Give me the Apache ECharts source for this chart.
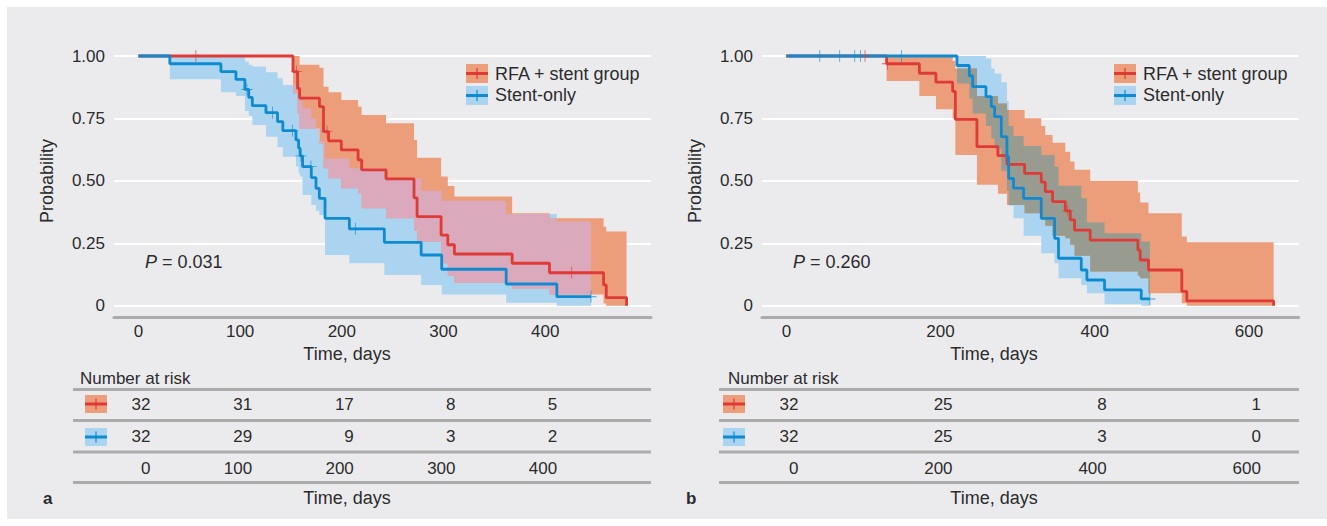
<!DOCTYPE html>
<html><head><meta charset="utf-8">
<script src="https://cdn.jsdelivr.net/npm/echarts@6/dist/echarts.min.js"></script>
<style>html,body{margin:0;padding:0;background:#fff}#c{width:1327px;height:526px}</style>
</head><body><div id="c"></div>
<script>
// ===== DATA =====
// Panel a — RFA + stent group: step start times, survival, CI lower, CI upper
const aRfaTime = [0, 152, 156.5, 158.5, 178, 182, 187, 199.5, 216, 219.5, 243.5, 271, 274, 297.6, 304.2, 310.7, 367.5, 404.2, 457.4, 460, 480];
const aRfaSurv = [1, 0.9375, 0.87, 0.831, 0.797, 0.697, 0.660, 0.624, 0.584, 0.544, 0.508, 0.432, 0.357, 0.283, 0.244, 0.207, 0.170, 0.132, 0.083, 0.032, 0];
const aRfaLo   = [1, 0.85, 0.77, 0.71, 0.65, 0.55, 0.51, 0.47, 0.45, 0.39, 0.35, 0.30, 0.257, 0.17, 0.12, 0.092, 0.069, 0.045, 0.009, 0, 0];
const aRfaHi   = [1, 1, 1, 0.965, 0.953, 0.877, 0.855, 0.824, 0.797, 0.764, 0.731, 0.664, 0.593, 0.517, 0.479, 0.437, 0.370, 0.350, 0.316, 0.297, 0];
const aRfaCensTime = [56.5, 155.5, 185.5, 426];
const aRfaCensSurv = [1, 0.9375, 0.697, 0.132];
// Panel a — Stent-only
const aStTime = [0, 30.9, 81.1, 95.9, 104.7, 108.5, 112, 125.4, 136.8, 142, 154.9, 157.5, 159, 161.4, 170, 174.6, 177.9, 183.5, 207.4, 241.8, 278, 298.2, 361.6, 411.4, 445];
const aStSurv = [1, 0.969, 0.9375, 0.906, 0.866, 0.834, 0.801, 0.773, 0.737, 0.701, 0.664, 0.631, 0.600, 0.557, 0.513, 0.47, 0.43, 0.35, 0.308, 0.254, 0.203, 0.146, 0.087, 0.036, 0.036];
const aStLo   = [1, 0.907, 0.855, 0.84, 0.78, 0.76, 0.724, 0.677, 0.635, 0.597, 0.557, 0.53, 0.517, 0.443, 0.403, 0.38, 0.363, 0.203, 0.17, 0.123, 0.083, 0.045, 0.012, 0, 0];
const aStHi   = [1, 1, 1, 1, 0.978, 0.965, 0.958, 0.935, 0.911, 0.884, 0.858, 0.84, 0.82, 0.79, 0.75, 0.71, 0.66, 0.59, 0.55, 0.51, 0.46, 0.42, 0.367, 0.337, 0.337];
const aStCensTime = [106.7, 131.9, 151.6, 159.8, 169.6, 213.3, 445];
const aStCensSurv = [0.866, 0.773, 0.701, 0.600, 0.557, 0.308, 0.036];
// Panel b — RFA + stent group
const bRfaTime = [0, 130, 172.5, 194, 215.7, 219.2, 247.2, 274.4, 286.1, 309, 330.6, 335.8, 345.3, 361.8, 368.2, 373.8, 394.1, 455.9, 458.9, 469.7, 512.9, 519.4, 632];
const bRfaSurv = [1, 0.969, 0.931, 0.895, 0.858, 0.746, 0.637, 0.601, 0.566, 0.530, 0.495, 0.457, 0.417, 0.380, 0.344, 0.303, 0.263, 0.223, 0.183, 0.143, 0.057, 0.019, 0];
const bRfaLo   = [1, 0.90, 0.84, 0.787, 0.75, 0.604, 0.484, 0.448, 0.403, 0.37, 0.344, 0.32, 0.28, 0.27, 0.244, 0.20, 0.137, 0.12, 0.11, 0.05, 0.01, 0, 0];
const bRfaHi   = [1, 1, 1, 1, 0.98, 0.95, 0.84, 0.81, 0.784, 0.751, 0.72, 0.684, 0.653, 0.617, 0.577, 0.544, 0.50, 0.453, 0.413, 0.370, 0.277, 0.254, 0];
const bRfaCensTime = [102, 131, 365];
const bRfaCensSurv = [1, 0.969, 0.380];
// Panel b — Stent-only
const bStTime = [0, 221.3, 237.3, 241.6, 258.9, 265.8, 270.1, 278.8, 286.1, 288.3, 294.6, 307.7, 330.6, 347.9, 353, 382.5, 389.8, 412.7, 460.3, 471.5];
const bStSurv = [1, 0.962, 0.921, 0.877, 0.837, 0.797, 0.757, 0.677, 0.597, 0.51, 0.471, 0.43, 0.35, 0.27, 0.19, 0.143, 0.103, 0.063, 0.027, 0.027];
const bStLo   = [1, 0.89, 0.83, 0.77, 0.72, 0.67, 0.63, 0.54, 0.46, 0.40, 0.35, 0.28, 0.21, 0.17, 0.11, 0.083, 0.05, 0.006, 0, 0];
const bStHi   = [1, 1, 1, 1, 0.99, 0.95, 0.93, 0.895, 0.82, 0.72, 0.68, 0.64, 0.604, 0.556, 0.48, 0.43, 0.333, 0.29, 0.257, 0.257];
const bStCensTime = [43.3, 69.2, 88.7, 96, 149.2, 471.5];
const bStCensSurv = [1, 1, 1, 1, 1, 0.027];
// Axis ticks and number-at-risk tables
const ticksA = [0, 100, 200, 300, 400];
const ticksB = [0, 200, 400, 600];
const riskARfa = [32, 31, 17, 8, 5];
const riskASt  = [32, 29, 9, 3, 2];
const riskBRfa = [32, 25, 8, 1];
const riskBSt  = [32, 25, 3, 0];
const labelRfa = 'RFA + stent group';
const labelSt = 'Stent-only';
const pA = '0.031', pB = '0.260';

// ===== STYLE =====
const FONT = "'Liberation Sans', Arial, sans-serif";
const TXT = '#2b2b2b';
const RED = '#E03A36', BLUE = '#0E8BD0';
const RED_BAND = '#EC9D79', BLUE_BAND = '#AAD4F0';
const OVL_A = '#DAA9BC', OVL_B = '#989B90';
const RULE = '#ABABAB', PANEL = '#EBEBEE';

function stepSegs(time, lo, hi){ const s=[]; for(let i=0;i<time.length-1;i++){ if(hi[i]-lo[i]>1e-9 && time[i+1]>time[i]) s.push([time[i],time[i+1],lo[i],hi[i]]); } return s; }
function runs(segs){ const out=[]; let cur=null; segs.forEach(s=>{ if(cur){ const p=cur[cur.length-1]; if(Math.abs(p[1]-s[0])<1e-9 && s[3]>=p[2] && s[2]<=p[3]){ cur.push(s); return; } } cur=[s]; out.push(cur); }); return out; }
function polyOf(run){ const up=[], dn=[]; run.forEach(s=>{ up.push([s[0],s[3]],[s[1],s[3]]); }); for(let i=run.length-1;i>=0;i--){ const s=run[i]; dn.push([s[1],s[2]],[s[0],s[2]]); } return up.concat(dn); }
function overlapSegs(a,b){ const ts=[...new Set(a.flatMap(s=>[s[0],s[1]]).concat(b.flatMap(s=>[s[0],s[1]])))].sort((x,y)=>x-y); const out=[]; for(let i=0;i<ts.length-1;i++){ const u=ts[i], v=ts[i+1], m=(u+v)/2; const sa=a.find(s=>s[0]<=m&&m<s[1]); const sb=b.find(s=>s[0]<=m&&m<s[1]); if(sa&&sb){ const lo=Math.max(sa[2],sb[2]), hi=Math.min(sa[3],sb[3]); if(hi>lo) out.push([u,v,lo,hi]); } } return out; }

function bandSeries(segs, color, gi, z){
  const polys = runs(segs).map(polyOf);
  return { type:'custom', xAxisIndex:gi, yAxisIndex:gi, z, silent:true, animation:false, clip:false,
    data: polys.map(p=>[p[0][0], p[0][1]]), encode:{x:0,y:1},
    renderItem:(params, api)=>({ type:'polygon', shape:{ points: polys[params.dataIndex].map(pt=>api.coord(pt)) }, style:{ fill: color } }) };
}
function kmLine(time, surv, color, gi, z){
  return { type:'line', xAxisIndex:gi, yAxisIndex:gi, z, data: time.map((t,i)=>[t,surv[i]]), step:'end', symbol:'none', clip:false, silent:true, animation:false, lineStyle:{ color, width:2.8 } };
}
const PLUS = 'path://M-0.07,-1L0.07,-1L0.07,-0.07L1,-0.07L1,0.07L0.07,0.07L0.07,1L-0.07,1L-0.07,0.07L-1,0.07L-1,-0.07L-0.07,-0.07Z';
function censors(time, surv, color, gi, z){
  return { type:'scatter', xAxisIndex:gi, yAxisIndex:gi, z, silent:true, animation:false, symbol:PLUS, symbolSize:[11,12], itemStyle:{ color }, data: time.map((t,i)=>[t,surv[i]]) };
}
function tableText(times, vals, row, gi){
  return { type:'custom', xAxisIndex:gi, yAxisIndex:gi, silent:true, animation:false, clip:false,
    data: times.map((t,i)=>[t,row,vals[i]]), encode:{x:0,y:1},
    renderItem:(p, api)=>{ const c=api.coord([api.value(0), api.value(1)]);
      return { type:'text', x:c[0]+12, y:c[1], style:{ text:String(api.value(2)), fill:TXT, fontSize:17, fontFamily:FONT, align:'right', verticalAlign:'middle' } }; } };
}

// ===== LAYOUT =====
const GA = {left:114, top:56, width:537, height:249.7};
const GB = {left:762, top:56, width:536.6, height:249.7};
const TA = {left:114, top:388, width:537, height:96};
const TB = {left:762, top:388, width:536.6, height:96};
const XA = {min:-24, max:504}, XB = {min:-31.6, max:664.4};

function plotX(gi, range, ticks){
  return { type:'value', gridIndex:gi, min:range.min, max:range.max, offset:11.5,
    axisLine:{ show:true, onZero:false, lineStyle:{ color:RULE, width:3 } }, axisTick:{ show:false }, splitLine:{ show:false },
    axisLabel:{ customValues:ticks, color:TXT, fontSize:17, fontFamily:FONT, margin:6 } };
}
function plotY(gi){
  return { type:'value', gridIndex:gi, min:0, max:1, interval:0.25,
    axisLine:{show:false}, axisTick:{show:false},
    splitLine:{ show:true, lineStyle:{ color:'#ffffff', width:2 } },
    axisLabel:{ color:TXT, fontSize:17, fontFamily:FONT, margin:9, formatter:v=> v===0 ? '0' : v.toFixed(2) } };
}
function hiddenX(gi, range){ return { type:'value', gridIndex:gi, min:range.min, max:range.max, show:false }; }
function hiddenY(gi){ return { type:'value', gridIndex:gi, min:0, max:3, inverse:true, show:false }; }

function txt(x, y, text, opt){ return Object.assign({ type:'text', x, y, silent:true, style:Object.assign({ text, fill:TXT, fontSize:17, fontFamily:FONT, align:'left', verticalAlign:'middle' }, opt||{}) }); }
function swatch(x, y, fill, line, h){
  h = h || 19;
  return [
    { type:'rect', shape:{x, y, width:22, height:h}, style:{fill}, silent:true },
    { type:'rect', shape:{x, y:y+h/2-1.5, width:22, height:3}, style:{fill:line}, silent:true },
    { type:'rect', shape:{x:x+10.4, y:y+h/2-5.5, width:1.2, height:11}, style:{fill:line}, silent:true }
  ];
}
function ruleLine(x1, x2, y){ return { type:'rect', shape:{x:x1, y:y-1.5, width:x2-x1, height:3}, style:{fill:RULE}, silent:true }; }

const graphics = [
  { type:'rect', z:-100, shape:{x:7, y:7, width:1320, height:512}, style:{fill:PANEL}, silent:true },
  // panel a
  ...swatch(466, 64, RED_BAND, RED), ...swatch(466, 86, BLUE_BAND, BLUE),
  txt(495, 74, labelRfa, {fontSize:18}), txt(495, 95, labelSt, {fontSize:18}),
  { type:'text', x:145, y:262, silent:true, style:{ text:'{i|P} = '+pA, fill:TXT, fontSize:18, fontFamily:FONT, verticalAlign:'middle', rich:{ i:{ fontStyle:'italic', fontSize:18, fontFamily:FONT, fill:TXT } } } },
  { type:'text', x:47, y:181, rotation:Math.PI/2, silent:true, style:{ text:'Probability', fill:TXT, fontSize:18, fontFamily:FONT, align:'center', verticalAlign:'middle' } },
  txt(347, 354, 'Time, days', {fontSize:18, align:'center'}),
  txt(80, 378, 'Number at risk'),
  ruleLine(73, 651, 389.5), ruleLine(73, 651, 420.5), ruleLine(73, 651, 452), ruleLine(73, 651, 482.5),
  ...swatch(85, 395, RED_BAND, RED, 18), ...swatch(85, 428, BLUE_BAND, BLUE, 18),
  txt(43, 498, 'a', {fontWeight:'bold'}),
  txt(347, 498, 'Time, days', {fontSize:18, align:'center'}),
  // panel b
  ...swatch(1114, 64, RED_BAND, RED), ...swatch(1114, 86, BLUE_BAND, BLUE),
  txt(1143, 74, labelRfa, {fontSize:18}), txt(1143, 95, labelSt, {fontSize:18}),
  { type:'text', x:793, y:262, silent:true, style:{ text:'{i|P} = '+pB, fill:TXT, fontSize:18, fontFamily:FONT, verticalAlign:'middle', rich:{ i:{ fontStyle:'italic', fontSize:18, fontFamily:FONT, fill:TXT } } } },
  { type:'text', x:695, y:181, rotation:Math.PI/2, silent:true, style:{ text:'Probability', fill:TXT, fontSize:18, fontFamily:FONT, align:'center', verticalAlign:'middle' } },
  txt(994, 354, 'Time, days', {fontSize:18, align:'center'}),
  txt(728, 378, 'Number at risk'),
  ruleLine(719, 1299, 389.5), ruleLine(719, 1299, 420.5), ruleLine(719, 1299, 452), ruleLine(719, 1299, 482.5),
  ...swatch(723, 395, RED_BAND, RED, 18), ...swatch(723, 428, BLUE_BAND, BLUE, 18),
  txt(686, 498, 'b', {fontWeight:'bold'}),
  txt(994, 498, 'Time, days', {fontSize:18, align:'center'})
];

const aRfaSeg = stepSegs(aRfaTime, aRfaLo, aRfaHi), aStSeg = stepSegs(aStTime, aStLo, aStHi);
const bRfaSeg = stepSegs(bRfaTime, bRfaLo, bRfaHi), bStSeg = stepSegs(bStTime, bStLo, bStHi);

const chart = echarts.init(document.getElementById('c'), null, { renderer:'svg' });
chart.setOption({
  backgroundColor:'#ffffff',
  animation:false,
  grid:[ GA, GB, TA, TB ],
  xAxis:[ plotX(0, XA, ticksA), plotX(1, XB, ticksB), hiddenX(2, XA), hiddenX(3, XB) ],
  yAxis:[ plotY(0), plotY(1), hiddenY(2), hiddenY(3) ],
  graphic: graphics,
  series:[
    bandSeries(aStSeg, BLUE_BAND, 0, 1), bandSeries(aRfaSeg, RED_BAND, 0, 2), bandSeries(overlapSegs(aRfaSeg, aStSeg), OVL_A, 0, 3),
    kmLine(aRfaTime, aRfaSurv, RED, 0, 4), kmLine(aStTime, aStSurv, BLUE, 0, 5),
    censors(aRfaCensTime, aRfaCensSurv, RED, 0, 6), censors(aStCensTime, aStCensSurv, BLUE, 0, 6),
    bandSeries(bStSeg, BLUE_BAND, 1, 1), bandSeries(bRfaSeg, RED_BAND, 1, 2), bandSeries(overlapSegs(bRfaSeg, bStSeg), OVL_B, 1, 3),
    kmLine(bRfaTime, bRfaSurv, RED, 1, 4), kmLine(bStTime, bStSurv, BLUE, 1, 5),
    censors(bRfaCensTime, bRfaCensSurv, RED, 1, 6), censors(bStCensTime, bStCensSurv, BLUE, 1, 6),
    tableText(ticksA, riskARfa, 0.5, 2), tableText(ticksA, riskASt, 1.5, 2), tableText(ticksA, ticksA, 2.5, 2),
    tableText(ticksB, riskBRfa, 0.5, 3), tableText(ticksB, riskBSt, 1.5, 3), tableText(ticksB, ticksB, 2.5, 3)
  ]
});
</script></body></html>
